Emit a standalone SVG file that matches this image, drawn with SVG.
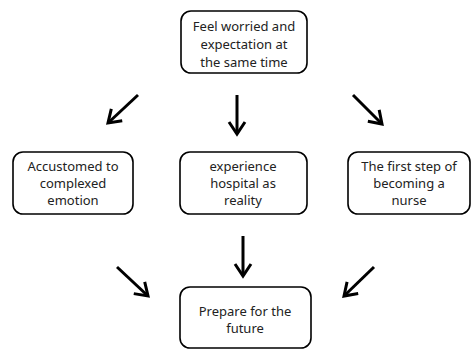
<svg xmlns="http://www.w3.org/2000/svg" width="472" height="350" viewBox="0 0 472 350">
<style>
.box{fill:#fff;stroke:#000;stroke-width:1.6}
.t{font-family:"Noto Sans","Open Sans",sans-serif;font-size:13px;fill:#222;text-anchor:middle}
.arr{fill:none;stroke:#000;stroke-width:3;marker-end:url(#ah)}
</style>
<defs>
<marker id="ah" markerUnits="userSpaceOnUse" markerWidth="20" markerHeight="20" viewBox="-16 -10 20 20" refX="0" refY="0" orient="auto">
<path d="M-12,-8 L0,0 L-12,8" fill="none" stroke="#000" stroke-width="3"/>
</marker>
</defs>
<rect width="472" height="350" fill="#fff"/>
<g id="connectors">
<path class="arr" d="M138,95 L108,123"/>
<path class="arr" d="M237,95 L237,134"/>
<path class="arr" d="M353,95 L382,124"/>
<path class="arr" d="M117,267 L148,296"/>
<path class="arr" d="M243,236 L243,276"/>
<path class="arr" d="M374,267 L344,296"/>
</g>
<g id="n-top">
<rect class="box" x="181" y="11" width="126" height="62" rx="10"/>
<text class="t" x="244" y="31">Feel worried and</text>
<text class="t" x="244" y="49">expectation at</text>
<text class="t" x="244" y="67">the same time</text>
</g>
<g id="n-left">
<rect class="box" x="13" y="152" width="120" height="62" rx="10"/>
<text class="t" x="73" y="171">Accustomed to</text>
<text class="t" x="73" y="188">complexed</text>
<text class="t" x="73" y="205">emotion</text>
</g>
<g id="n-mid">
<rect class="box" x="180" y="152" width="127" height="62" rx="10"/>
<text class="t" x="243" y="171">experience</text>
<text class="t" x="243" y="188">hospital as</text>
<text class="t" x="243" y="205">reality</text>
</g>
<g id="n-right">
<rect class="box" x="348" y="152" width="122" height="62" rx="10"/>
<text class="t" x="409" y="171">The first step of</text>
<text class="t" x="409" y="188">becoming a</text>
<text class="t" x="409" y="205">nurse</text>
</g>
<g id="n-bottom">
<rect class="box" x="180" y="287" width="131" height="61" rx="10"/>
<text class="t" x="245" y="316">Prepare for the</text>
<text class="t" x="245" y="333">future</text>
</g>
</svg>
